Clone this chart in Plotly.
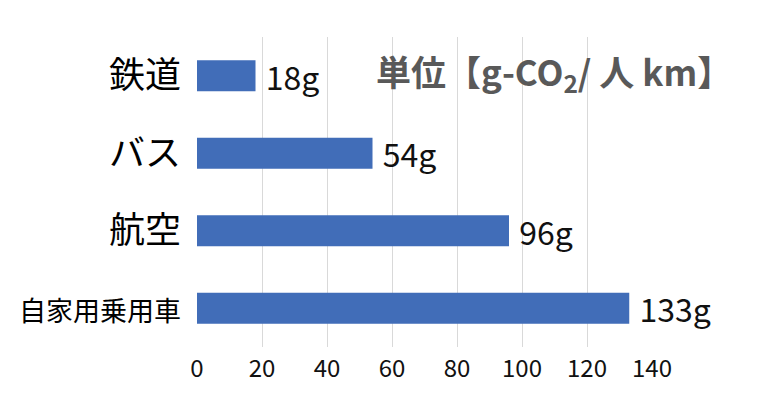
import plotly.graph_objects as go

modes = ["鉄道", "バス", "航空", "自家用乗用車"]
co2_g = [18, 54, 96, 133]
x_ticks = [0, 20, 40, 60, 80, 100, 120, 140]
unit_label = "単位【g-CO<sub>2</sub>/ 人 km】"

font = "Noto Sans CJK JP"

# the long label is set smaller than the short ones, as in the original
label_sizes = [36, 36, 36, 27]
tick_text = ['<span style="font-size:%dpx">%s</span>' % (s, m) for s, m in zip(label_sizes, modes)]

fig = go.Figure(go.Bar(
    x=co2_g,
    y=modes,
    orientation="h",
    marker=dict(color="#416DB8", line=dict(width=0)),
    texttemplate="\u00a0%{x}g",
    textposition="outside",
    constraintext="none",
    cliponaxis=False,
    textfont=dict(family=font, size=32, color="#111111"),
))

fig.update_layout(
    width=759,
    height=419,
    margin=dict(l=189, r=115, t=29, b=80),
    paper_bgcolor="white",
    plot_bgcolor="white",
    bargap=0.6,
    showlegend=False,
    font=dict(family=font),
    xaxis=dict(
        range=[0, 140],
        tickvals=x_ticks,
        showgrid=True,
        gridcolor="#d9d9d9",
        gridwidth=1,
        zeroline=False,
        showline=False,
        automargin=False,
        tickfont=dict(family=font, size=24, color="#111111"),
        ticklabelstandoff=5,
    ),
    yaxis=dict(
        autorange="reversed",
        tickvals=modes,
        ticktext=tick_text,
        showgrid=False,
        showline=False,
        automargin=False,
        tickfont=dict(family=font, size=36, color="#000000"),
        ticklabelstandoff=15,
    ),
    annotations=[dict(
        text="<b>" + unit_label + "</b>",
        x=1.18, y=0.885, xref="paper", yref="paper",
        xanchor="right", yanchor="middle",
        showarrow=False,
        font=dict(family=font, size=35, color="#595959"),
    )],
)

fig.write_html("out.html")
